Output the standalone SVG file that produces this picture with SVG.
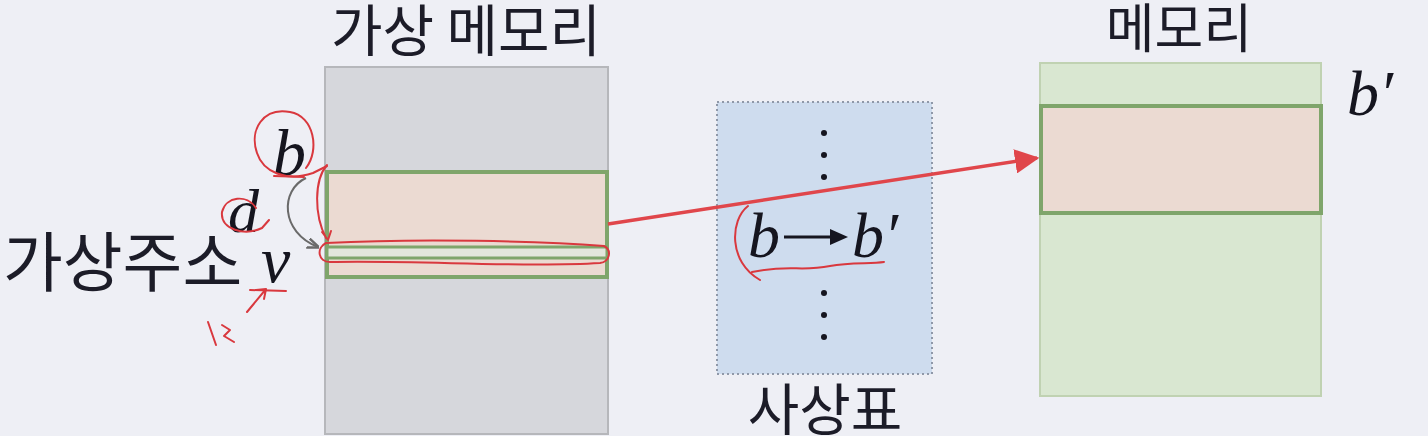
<svg xmlns="http://www.w3.org/2000/svg" width="1428" height="436" viewBox="0 0 1428 436">
<defs>
<style>
.ko{font-family:"Noto Sans CJK KR","Noto Sans",sans-serif;fill:#1c1c28}
.m{font-family:"Liberation Serif","DejaVu Serif",serif;font-style:italic;fill:#15151f}
.red{fill:none;stroke:#d9383e;stroke-width:2;stroke-linecap:round;stroke-linejoin:round}
.blk{fill:#ebdad2;stroke:#7fa56b;stroke-width:4}
</style>
<marker id="ah" viewBox="0 0 10 10" refX="9" refY="5" markerWidth="7" markerHeight="7" orient="auto" markerUnits="strokeWidth">
<path d="M0,0 L10,5 L0,10 z" fill="#e0464b"/>
</marker>
<marker id="gh" viewBox="0 0 10 10" refX="9" refY="5" markerWidth="6" markerHeight="6" orient="auto" markerUnits="strokeWidth">
<path d="M0,1 L10,5 L0,9" fill="none" stroke="#6a6a6a" stroke-width="2"/>
</marker>
</defs>
<rect x="0" y="0" width="1428" height="436" fill="#eeeff5"/>

<g id="virtual-memory">
<text class="ko" x="466" y="51" font-size="56" text-anchor="middle">가상 메모리</text>
<rect x="325" y="67" width="283" height="367" fill="#d6d7dc" stroke="#b6b7bb" stroke-width="2"/>
<rect class="blk" x="327" y="172" width="280" height="105"/>
<rect x="327" y="247" width="280" height="11" fill="#e3e6dc" stroke="#7fa56b" stroke-width="3"/>
</g>

<g id="mapping-table">
<rect x="717" y="102" width="215" height="272" fill="#cedcee" stroke="#8f98a8" stroke-width="2" stroke-dasharray="2,3"/>
<g fill="#15151f">
<circle cx="824" cy="133" r="3"/><circle cx="824" cy="155" r="3"/><circle cx="824" cy="177" r="3"/>
<circle cx="824" cy="293" r="3"/><circle cx="824" cy="315" r="3"/><circle cx="824" cy="337" r="3"/>
</g>
<text class="m" x="748" y="257" font-size="64">b</text>
<line x1="784" y1="237" x2="838" y2="237" stroke="#15151f" stroke-width="3"/>
<path d="M830,229 L848,237 L830,245 z" fill="#15151f"/>
<text class="m" x="852" y="257" font-size="64">b′</text>
<text class="ko" x="825" y="430" font-size="56" text-anchor="middle">사상표</text>
</g>

<g id="memory">
<text class="ko" x="1179" y="48" font-size="53" text-anchor="middle">메모리</text>
<rect x="1040" y="63" width="281" height="333" fill="#d9e7d1" stroke="#c0d2b2" stroke-width="2"/>
<rect class="blk" x="1041" y="106" width="280" height="107"/>
<text class="m" x="1347" y="115" font-size="64">b′</text>
</g>

<g id="virtual-address">
<text class="ko" x="3" y="286" font-size="65">가상주소</text>
<text class="m" x="273" y="175" font-size="66">b</text>
<text class="m" x="228" y="232" font-size="62">d</text>
<text class="m" x="261" y="282" font-size="66">v</text>
</g>

<g id="connectors">
<line x1="608" y1="224" x2="1037" y2="158" stroke="#e0464b" stroke-width="3.5" marker-end="url(#ah)"/>
<path d="M306,178 C280,190 280,232 318,247" fill="none" stroke="#6a6a6a" stroke-width="2" marker-end="url(#gh)"/>
</g>

<g id="annotations">
<path class="red" d="M306,168 C320,150 314,116 290,112 C263,107 249,130 257,153 C263,172 286,182 313,173 L327,166"/>
<path class="red" d="M274,176 L304,177" stroke-width="4"/>
<path class="red" d="M327,165 C314,180 314,215 326,238 M322,232 L328,240 L331,231"/>
<path class="red" d="M256,208 C247,194 226,196 222,212 C220,230 245,236 262,228 L269,220"/>
<path class="red" d="M250,290 L286,291" stroke-width="3"/>
<path class="red" d="M247,312 L266,289 M256,290 L266,289 L264,299"/>
<path class="red" d="M208,322 L216,345 M222,325 L230,330 L224,336 L234,342"/>
<path class="red" d="M326,243 C420,238 540,241 604,246 C612,250 610,262 600,263 C520,268 420,260 330,262 C318,262 316,248 326,243"/>
<path class="red" d="M748,206 C730,220 728,262 760,280 M752,272 C790,264 800,272 830,266 C850,262 870,264 884,262"/>
</g>
</svg>
